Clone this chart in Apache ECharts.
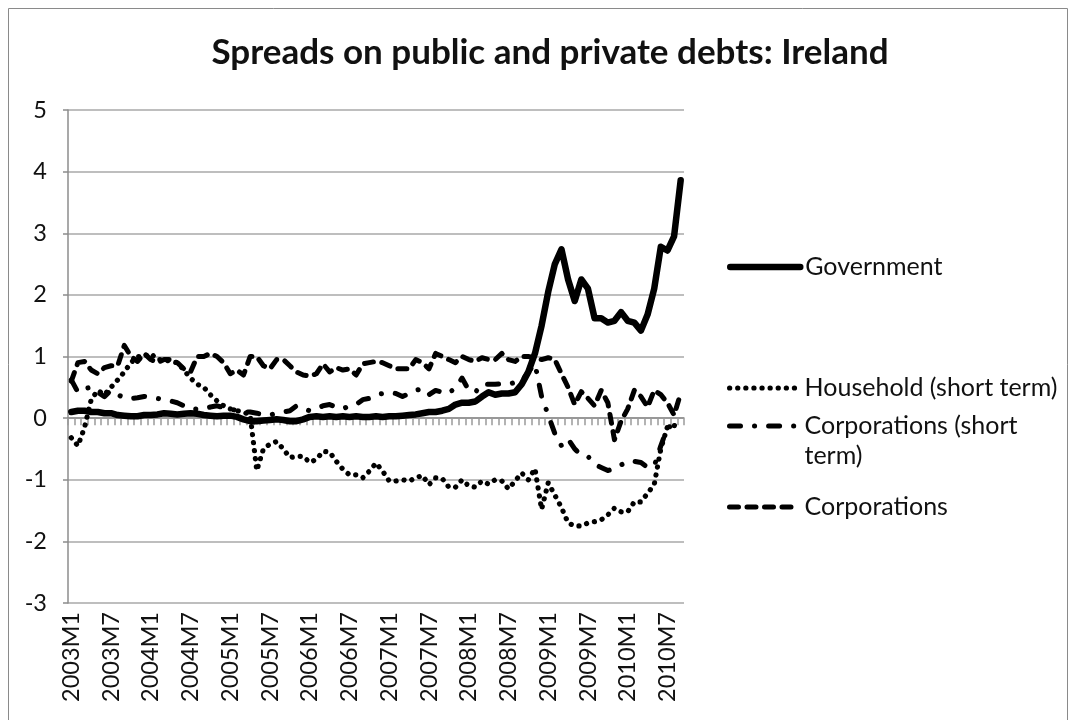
<!DOCTYPE html>
<html>
<head>
<meta charset="utf-8">
<script src="https://cdn.jsdelivr.net/npm/echarts@6/dist/echarts.min.js"></script>
<style>
  html, body { margin: 0; padding: 0; background: #ffffff; }
  #chart { width: 1070px; height: 720px; }
</style>
</head>
<body>
<div id="chart"></div>
<script>
// Monthly categories, 2003M1 .. 2010M9
const months = [];
for (let y = 2003; y <= 2010; y++) {
  for (let m = 1; m <= 12; m++) months.push(y + 'M' + m);
}
months.length = 93;

// Spreads (percentage points), one value per month
const government = [
  0.10, 0.12, 0.12, 0.10, 0.10, 0.08, 0.08, 0.05, 0.04, 0.03, 0.03, 0.05,
  0.05, 0.06, 0.08, 0.07, 0.06, 0.07, 0.08, 0.07, 0.05, 0.04, 0.03, 0.04,
  0.04, 0.02, -0.02, -0.05, -0.05, -0.04, -0.03, -0.02, -0.03, -0.05, -0.05, -0.02,
  0.02, 0.03, 0.02, 0.03, 0.02, 0.03, 0.02, 0.03, 0.02, 0.02, 0.03, 0.02,
  0.03, 0.03, 0.04, 0.05, 0.06, 0.08, 0.10, 0.10, 0.12, 0.15, 0.22, 0.25,
  0.25, 0.27, 0.35, 0.42, 0.38, 0.40, 0.40, 0.42, 0.55, 0.75, 1.05, 1.50,
  2.05, 2.50, 2.74, 2.25, 1.90, 2.25, 2.10, 1.62, 1.62, 1.55, 1.58, 1.72,
  1.58, 1.55, 1.42, 1.68, 2.10, 2.78, 2.72, 2.95, 3.86
];
const household = [
  -0.32, -0.45, -0.15, 0.30, 0.45, 0.38, 0.50, 0.62, 0.75, 0.90, 1.00, 1.00,
  1.05, 0.95, 0.95, 0.92, 0.90, 0.78, 0.65, 0.55, 0.50, 0.38, 0.28, 0.20,
  0.15, 0.12, 0.10, 0.05, -0.85, -0.50, -0.42, -0.38, -0.50, -0.64, -0.62, -0.62,
  -0.72, -0.67, -0.54, -0.55, -0.70, -0.83, -0.92, -0.92, -0.97, -0.86, -0.73, -0.86,
  -1.02, -1.02, -1.00, -1.02, -0.97, -0.93, -1.08, -0.97, -0.98, -1.12, -1.12, -1.00,
  -1.10, -1.12, -1.02, -1.07, -1.00, -1.02, -1.15, -1.02, -0.89, -1.00, -0.82, -1.48,
  -1.05, -1.25, -1.45, -1.70, -1.75, -1.75, -1.70, -1.68, -1.65, -1.57, -1.46, -1.52,
  -1.52, -1.36, -1.36, -1.22, -1.08, -0.50, -0.14, -0.12, -0.15
];
const corpShort = [
  0.62, 0.42, 0.48, 0.50, 0.42, 0.35, 0.45, 0.38, 0.33, 0.32, 0.33, 0.35,
  0.34, 0.32, 0.30, 0.28, 0.25, 0.20, 0.15, 0.15, 0.15, 0.18, 0.20, 0.17,
  0.15, 0.12, 0.10, 0.10, 0.08, 0.05, 0.05, 0.08, 0.10, 0.12, 0.20, 0.15,
  0.12, 0.15, 0.20, 0.22, 0.18, 0.15, 0.20, 0.22, 0.30, 0.32, 0.38, 0.40,
  0.42, 0.40, 0.35, 0.40, 0.45, 0.48, 0.38, 0.45, 0.42, 0.40, 0.50, 0.65,
  0.45, 0.42, 0.55, 0.55, 0.55, 0.56, 0.55, 0.58, 0.60, 0.75, 0.88, 0.35,
  0.05, -0.25, -0.45, -0.34, -0.50, -0.60, -0.62, -0.75, -0.80, -0.85, -0.82, -0.76,
  -0.70, -0.70, -0.72, -0.80, -0.78, -0.45, -0.15, -0.12, -0.15
];
const corporations = [
  0.60, 0.90, 0.92, 0.78, 0.72, 0.82, 0.85, 0.85, 1.18, 1.00, 0.92, 1.05,
  0.95, 0.90, 0.95, 0.95, 0.90, 0.80, 0.75, 1.00, 1.00, 1.05, 1.00, 0.90,
  0.72, 0.78, 0.70, 1.00, 1.00, 0.85, 0.80, 0.95, 0.95, 0.85, 0.75, 0.70,
  0.68, 0.72, 0.88, 0.75, 0.82, 0.78, 0.80, 0.70, 0.88, 0.90, 0.92, 0.90,
  0.85, 0.80, 0.80, 0.80, 0.95, 0.90, 0.80, 1.05, 1.00, 0.95, 0.90, 1.00,
  0.95, 0.92, 0.98, 0.95, 0.95, 1.05, 0.95, 0.92, 1.00, 1.00, 0.98, 0.95,
  0.98, 0.95, 0.72, 0.50, 0.22, 0.43, 0.32, 0.20, 0.45, 0.25, -0.35, -0.05,
  0.15, 0.45, 0.35, 0.18, 0.45, 0.38, 0.25, 0.05, 0.40
];

const seriesNames = ['Government', 'Household (short term)', 'Corporations (short term)', 'Corporations'];
const yMin = -3, yMax = 5, yStep = 1;

const FONT = 'Lato, "Open Sans", sans-serif';
const TEXT = '#111111';
const GRID_GRAY = '#a8a8a8';

// Line looks: solid, round dots, long dash + dot, short dashes
const lineStyles = [
  { color: '#000', width: 6.5, type: 'solid', cap: 'round', join: 'round' },
  { color: '#000', width: 5.2, type: [0.1, 8], cap: 'round', join: 'round' },
  { color: '#000', width: 5, type: [11, 14, 0.1, 14], cap: 'round', join: 'round' },
  { color: '#000', width: 5, type: [9, 8.5], cap: 'round', join: 'round' }
];
const seriesData = [government, household, corpShort, corporations];

// vertical placement of each legend entry (top of its box)
const legendTops = [252, 373, 381, 492];
const legendLabels = ['Government', 'Household (short term)', '\nCorporations (short\nterm)', 'Corporations'];

const chart = echarts.init(document.getElementById('chart'), null, { renderer: 'canvas' });
chart.setOption({
  animation: false,
  backgroundColor: '#ffffff',
  title: {
    text: 'Spreads on public and private debts: Ireland',
    left: 545,
    top: 30,
    textAlign: 'center',
    textStyle: { fontFamily: FONT, fontSize: 35, fontWeight: 'bold', color: TEXT }
  },
  graphic: [{
    type: 'rect',
    shape: { x: 8.5, y: 8.5, width: 1059, height: 730 },
    style: { fill: 'none', stroke: '#8a8a8a', lineWidth: 1 },
    silent: true
  }],
  legend: seriesNames.map((name, i) => ({
    data: [name],
    orient: 'vertical',
    left: 727,
    top: legendTops[i],
    padding: 0,
    itemWidth: 70,
    itemHeight: 14,
    selectedMode: false,
    formatter: () => legendLabels[i],
    itemStyle: { opacity: 0 },
    lineStyle: {
      width: lineStyles[i].width,
      type: lineStyles[i].type,
      cap: 'round',
      color: '#000'
    },
    textStyle: { fontFamily: FONT, fontSize: 25, color: TEXT, lineHeight: 30 }
  })),
  grid: { left: 68, right: 386, top: 110, bottom: 117, containLabel: false },
  xAxis: [{
    type: 'category',
    data: months,
    boundaryGap: true,
    axisLine: { show: true, onZero: true, lineStyle: { color: '#8c8c8c', width: 1.5 } },
    axisTick: { show: true, interval: 0, length: 7, lineStyle: { color: '#9a9a9a', width: 1.5 } },
    axisLabel: { show: false },
    splitLine: { show: false }
  }, {
    type: 'category',
    data: months,
    boundaryGap: true,
    position: 'bottom',
    axisLine: { show: false, onZero: false },
    axisTick: { show: false },
    axisLabel: {
      interval: 5, rotate: 90, margin: 9,
      padding: [9, 0, 0, 0],
      fontFamily: FONT, fontSize: 23.5, color: TEXT
    },
    splitLine: { show: false }
  }],
  yAxis: {
    type: 'value',
    min: yMin, max: yMax, interval: yStep,
    axisLine: { show: true, lineStyle: { color: '#8c8c8c', width: 1.5 } },
    axisTick: { show: true, length: 5, lineStyle: { color: '#8c8c8c', width: 1.5 } },
    axisLabel: { fontFamily: FONT, fontSize: 23.5, color: TEXT, margin: 21 },
    splitLine: { show: true, lineStyle: { color: GRID_GRAY, width: 1.5 } }
  },
  series: seriesNames.map((name, i) => ({
    name: name,
    type: 'line',
    xAxisIndex: 0,
    data: seriesData[i],
    symbol: 'none',
    smooth: false,
    z: 10 - i,
    itemStyle: { color: '#000' },
    lineStyle: lineStyles[i]
  })).reverse()
});
</script>
</body>
</html>
